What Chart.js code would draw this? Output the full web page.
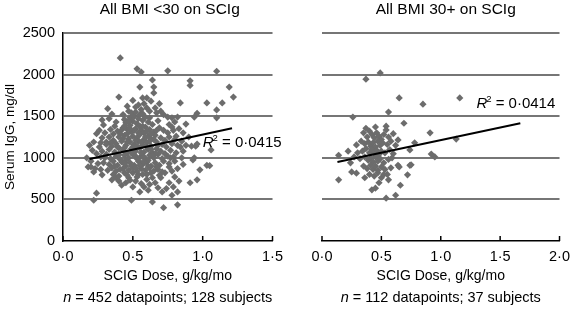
<!DOCTYPE html>
<html>
<head>
<meta charset="utf-8">
<script src="https://cdn.jsdelivr.net/npm/chart.js@4.4.1/dist/chart.umd.min.js"></script>
<style>
  body { margin: 0; background: #fff; }
  #wrap { position: relative; width: 577px; height: 312px; }
  .panel { position: absolute; top: 0; height: 312px; }
</style>
</head>
<body>
<div id="wrap">
  <div class="panel" style="left:0;width:290px"><canvas id="leftChart"></canvas></div>
  <div class="panel" style="left:290px;width:287px"><canvas id="rightChart"></canvas></div>
</div>
<script>
// Serum IgG vs SCIG dose, split by BMI group
const FONT = "'Liberation Sans', Arial, sans-serif";

const yTicks = [0, 500, 1000, 1500, 2000, 2500];
const leftXTicks = ['0·0', '0·5', '1·0', '1·5'];
const rightXTicks = ['0·0', '0·5', '1·0', '1·5', '2·0'];

const panelTitles = ['All BMI <30 on SCIg', 'All BMI 30+ on SCIg'];
const footnotes = [' = 452 datapoints; 128 subjects', ' = 112 datapoints; 37 subjects'];
const rSquared = ['0·0415', '0·0414'];

// [dose g/kg/mo, IgG mg/dl]
const leftPoints = [
    [0.41, 2200], [0.53, 2070], [0.56, 2030], [0.75, 2045], [1.10, 2040], [0.64, 1935],
    [0.91, 1925], [0.91, 1870], [1.19, 1850], [0.55, 1850], [0.65, 1850], [0.65, 1780],
    [1.22, 1730], [0.40, 1730], [0.84, 1660], [1.03, 1660], [1.14, 1660], [0.69, 1650],
    [0.54, 1635], [0.46, 1620], [1.10, 1575], [0.32, 1590], [0.35, 1525], [0.96, 1535],
    [0.94, 1490], [1.10, 1480], [0.28, 1455], [0.29, 1395], [0.38, 1430], [0.42, 1335],
    [0.36, 1285], [0.88, 1405], [0.75, 1490], [0.78, 1480], [0.82, 1490], [0.22, 1190],
    [0.28, 1240], [0.33, 1250], [0.20, 890], [0.17, 1000], [0.24, 575], [0.22, 490],
    [0.49, 490], [0.64, 470], [0.72, 400], [0.82, 435], [0.82, 590], [0.78, 550],
    [0.91, 700], [0.96, 735], [0.80, 770], [1.03, 910], [1.05, 905], [0.98, 855],
    [0.93, 975], [0.94, 1000], [1.06, 1095], [0.84, 1130], [0.77, 1000], [0.55, 590],
    [0.61, 610], [0.42, 670], [0.50, 650], [0.35, 735], [0.28, 795], [0.18, 890],
    [0.22, 830], [0.19, 1150], [0.21, 1090], [0.24, 1050], [0.20, 960], [0.25, 930],
    [0.23, 870], [0.27, 860], [0.30, 1000], [0.26, 1130], [0.24, 1290], [0.26, 1330],
    [0.30, 1300], [0.31, 1190], [0.27, 1180], [0.33, 1470], [0.37, 1380], [0.34, 1340],
    [0.44, 1460], [0.43, 1520], [0.47, 1560], [0.48, 1480], [0.50, 1690], [0.52, 1610],
    [0.56, 1580], [0.58, 1650], [0.60, 1600], [0.62, 1560], [0.66, 1600], [0.70, 1560],
    [0.72, 1520], [0.67, 1540], [0.63, 1680], [0.57, 1720], [0.60, 1720], [0.80, 1430],
    [0.76, 1400], [0.83, 1350], [0.86, 1300], [0.90, 1250], [0.81, 1260], [0.92, 1140],
    [0.95, 1140], [0.88, 1150], [0.85, 1200], [0.79, 1330], [0.96, 1165], [0.32, 850],
    [0.36, 800], [0.38, 760], [0.40, 720], [0.45, 700], [0.47, 760], [0.52, 720],
    [0.56, 690], [0.58, 650], [0.62, 680], [0.66, 700], [0.68, 640], [0.71, 590],
    [0.74, 630], [0.76, 700], [0.79, 650], [0.83, 720], [0.70, 760], [0.64, 760],
    [0.60, 800], [0.54, 800], [0.50, 820], [0.44, 820], [0.41, 860], [0.73, 820],
    [0.78, 840], [0.82, 870], [0.86, 920], [0.85, 1000], [0.80, 960], [0.76, 930],
    [0.45, 1420], [0.50, 1440], [0.53, 1410], [0.57, 1450], [0.61, 1430], [0.64, 1400],
    [0.68, 1445], [0.55, 1380], [0.48, 1390], [0.59, 1370], [0.39, 1320], [0.43, 1360],
    [0.46, 1340], [0.49, 1310], [0.52, 1350], [0.56, 1330], [0.58, 1300], [0.62, 1340],
    [0.65, 1310], [0.69, 1360], [0.72, 1330], [0.75, 1300], [0.78, 1370], [0.41, 1290],
    [0.36, 1210], [0.40, 1250], [0.44, 1270], [0.47, 1230], [0.50, 1260], [0.53, 1240],
    [0.55, 1280], [0.58, 1220], [0.61, 1260], [0.63, 1230], [0.66, 1270], [0.70, 1240],
    [0.73, 1210], [0.76, 1250], [0.80, 1220], [0.34, 1180], [0.31, 1160], [0.35, 1140],
    [0.38, 1170], [0.42, 1200], [0.45, 1150], [0.48, 1190], [0.51, 1160], [0.54, 1200],
    [0.57, 1150], [0.60, 1180], [0.63, 1140], [0.67, 1190], [0.71, 1160], [0.74, 1130],
    [0.78, 1170], [0.82, 1150], [0.28, 1080], [0.33, 1100], [0.37, 1070], [0.40, 1120],
    [0.43, 1090], [0.46, 1060], [0.49, 1110], [0.52, 1080], [0.55, 1120], [0.58, 1070],
    [0.61, 1100], [0.64, 1060], [0.67, 1110], [0.70, 1080], [0.73, 1050], [0.77, 1090],
    [0.81, 1060], [0.86, 1080], [0.27, 1010], [0.31, 1040], [0.34, 990], [0.38, 1020],
    [0.41, 980], [0.44, 1030], [0.47, 1000], [0.50, 1040], [0.53, 990], [0.56, 1020],
    [0.59, 980], [0.62, 1030], [0.65, 1000], [0.68, 1040], [0.71, 990], [0.75, 1020],
    [0.79, 1010], [0.29, 940], [0.33, 920], [0.36, 960], [0.39, 910], [0.42, 950],
    [0.45, 900], [0.48, 940], [0.51, 910], [0.54, 960], [0.57, 920], [0.60, 950],
    [0.63, 900], [0.66, 940], [0.69, 910], [0.72, 960], [0.76, 890], [0.35, 880],
    [0.38, 840], [0.43, 870], [0.47, 850], [0.50, 880], [0.53, 840], [0.56, 870],
    [0.59, 850], [0.62, 880], [0.65, 840], [0.68, 860], [0.71, 830],
    [0.44, 1380], [0.47, 1440], [0.51, 1500], [0.54, 1470], [0.57, 1530], [0.59, 1490],
    [0.62, 1480], [0.52, 1550], [0.55, 1520], [0.49, 1540], [0.46, 1290], [0.51, 1330],
    [0.54, 1300], [0.57, 1380], [0.60, 1320], [0.63, 1290], [0.67, 1330], [0.48, 1350],
    [0.43, 1230], [0.46, 1190], [0.52, 1210], [0.56, 1190], [0.59, 1250], [0.62, 1200],
    [0.65, 1220], [0.68, 1150], [0.39, 1130], [0.44, 1120], [0.50, 1130], [0.53, 1140],
    [0.56, 1060], [0.60, 1130], [0.63, 1100], [0.66, 1050], [0.40, 1040], [0.45, 970],
    [0.49, 1060], [0.52, 1020], [0.55, 950], [0.58, 1010], [0.61, 970], [0.64, 1030],
    [0.37, 900], [0.44, 930], [0.49, 900], [0.52, 880], [0.55, 910], [0.58, 950],
    [0.61, 900], [0.67, 890], [0.40, 780], [0.46, 790], [0.53, 770], [0.57, 800],
    [0.63, 820], [0.69, 790], [0.48, 730], [0.60, 740]
];

const rightPoints = [
    [0.37, 1945], [0.49, 2020], [0.65, 1720], [0.85, 1645], [1.16, 1720], [0.26, 1490],
    [0.56, 1550], [0.69, 1415], [0.37, 1355], [0.45, 1370], [0.54, 1380], [0.91, 1300],
    [1.13, 1225], [0.29, 1155], [0.14, 1030], [0.92, 1045], [0.95, 1010], [0.14, 735],
    [0.25, 830], [0.29, 815], [0.42, 615], [0.45, 635], [0.54, 515], [0.62, 550],
    [0.66, 670], [0.72, 795], [0.75, 915], [0.56, 735], [0.64, 910], [0.64, 1215],
    [0.54, 1335], [0.78, 1180], [0.74, 1095], [0.65, 890], [0.74, 910], [0.22, 1080],
    [0.27, 1010], [0.30, 1060], [0.24, 940], [0.35, 1300], [0.38, 1250], [0.40, 1320],
    [0.42, 1280], [0.44, 1240], [0.46, 1300], [0.48, 1260], [0.50, 1220], [0.52, 1280],
    [0.56, 1250], [0.60, 1290], [0.33, 1200], [0.36, 1170], [0.39, 1190], [0.41, 1140],
    [0.43, 1180], [0.45, 1130], [0.47, 1200], [0.49, 1150], [0.51, 1180], [0.55, 1160],
    [0.58, 1200], [0.62, 1150], [0.34, 1080], [0.37, 1110], [0.40, 1060], [0.42, 1100],
    [0.44, 1050], [0.46, 1090], [0.48, 1040], [0.50, 1080], [0.53, 1060], [0.57, 1100],
    [0.60, 1050], [0.32, 990], [0.36, 1010], [0.39, 970], [0.41, 1000], [0.43, 950],
    [0.45, 1010], [0.47, 960], [0.49, 990], [0.52, 940], [0.56, 980], [0.59, 1000],
    [0.35, 900], [0.38, 870], [0.41, 910], [0.43, 860], [0.45, 900], [0.47, 850],
    [0.50, 890], [0.53, 860], [0.58, 880], [0.40, 800], [0.44, 780], [0.47, 820],
    [0.50, 760], [0.52, 800], [0.36, 760], [0.48, 700], [0.55, 800]
];

// fitted trend line end points
const leftTrend = [[0.19, 985], [1.21, 1355]];
const rightTrend = [[0.13, 950], [1.67, 1415]];

const toXY = arr => arr.map(p => ({ x: p[0], y: p[1] }));

// titles, footnote with italic n, R^2 label, inward x ticks
const panelText = {
    id: 'panelText',
    afterDraw(chart, args, opts) {
        const ctx = chart.ctx;
        const a = chart.chartArea;
        const xs = chart.scales.x;
        const ys = chart.scales.y;
        const cx = (a.left + a.right) / 2;
        ctx.save();
        ctx.fillStyle = '#000';
        ctx.textBaseline = 'middle';

        // inward tick marks on the x axis
        ctx.strokeStyle = '#000';
        ctx.lineWidth = 1.5;
        xs.ticks.forEach(t => {
            const px = xs.getPixelForValue(t.value);
            ctx.beginPath();
            ctx.moveTo(px, a.bottom);
            ctx.lineTo(px, a.bottom - 5);
            ctx.stroke();
        });

        ctx.textAlign = 'center';
        ctx.font = '15.5px ' + FONT;
        ctx.fillText(opts.title, cx + opts.titleShift, 10);

        // footnote
        ctx.textAlign = 'left';
        ctx.font = 'italic 14.5px ' + FONT;
        const wn = ctx.measureText('n').width;
        ctx.font = '14.5px ' + FONT;
        const wr = ctx.measureText(opts.footnote).width;
        let x0 = cx - (wn + wr) / 2;
        ctx.font = 'italic 14.5px ' + FONT;
        ctx.fillText('n', x0, 298);
        ctx.font = '14.5px ' + FONT;
        ctx.fillText(opts.footnote, x0 + wn, 298);

        // R^2 label
        let rx = xs.getPixelForValue(opts.r2At[0]);
        const ry = ys.getPixelForValue(opts.r2At[1]);
        ctx.font = 'italic 15px ' + FONT;
        ctx.fillText('R', rx, ry);
        rx += ctx.measureText('R').width - 1;
        ctx.font = '9.5px ' + FONT;
        ctx.fillText('2', rx, ry - 5);
        rx += ctx.measureText('2').width;
        ctx.font = '15px ' + FONT;
        ctx.fillText(' = ' + opts.r2, rx, ry);
        ctx.restore();
    }
};

function makeChart(id, points, trend, xMax, xLabels, yWidth, padRight, text, showY) {
    return new Chart(document.getElementById(id), {
        type: 'scatter',
        data: {
            datasets: [
                {
                    type: 'line',
                    data: toXY(trend),
                    borderColor: '#000',
                    borderWidth: 2,
                    pointRadius: 0,
                    fill: false
                },
                {
                    data: toXY(points),
                    pointStyle: 'rectRot',
                    pointRadius: 3.6,
                    backgroundColor: '#6c6c6c',
                    borderWidth: 0
                }
            ]
        },
        options: {
            responsive: true,
            maintainAspectRatio: false,
            animation: false,
            layout: { padding: { top: 33, right: padRight, left: 0, bottom: 0 } },
            plugins: {
                legend: { display: false },
                tooltip: { enabled: false },
                panelText: text
            },
            scales: {
                x: {
                    type: 'linear',
                    min: 0,
                    max: xMax,
                    afterFit: s => { s.height = 71; },
                    afterBuildTicks: s => {
                        s.ticks = xLabels.map((_, i) => ({ value: i * 0.5 }));
                    },
                    grid: { display: false, drawTicks: false },
                    border: { color: '#000', width: 1.5 },
                    ticks: {
                        padding: 7,
                        color: '#000',
                        font: { family: FONT, size: 14.5 },
                        callback: v => xLabels[Math.round(v / 0.5)]
                    },
                    title: {
                        display: true,
                        text: 'SCIG Dose, g/kg/mo',
                        color: '#000',
                        font: { family: FONT, size: 14 },
                        padding: { top: 0, bottom: 27 }
                    }
                },
                y: {
                    min: 0,
                    max: 2500,
                    afterFit: s => { s.width = yWidth; },
                    afterBuildTicks: s => {
                        s.ticks = yTicks.map(v => ({ value: v }));
                    },
                    grid: {
                        color: c => (c.tick && c.tick.value === 0) ? 'rgba(0,0,0,0)' : '#767676',
                        lineWidth: 2,
                        drawTicks: false
                    },
                    border: { display: showY, color: '#000', width: 1.5 },
                    ticks: {
                        display: showY,
                        padding: 8,
                        color: '#000',
                        font: { family: FONT, size: 14.5 },
                        callback: v => String(v)
                    },
                    title: {
                        display: showY,
                        text: 'Serum IgG, mg/dl',
                        color: '#000',
                        font: { family: FONT, size: 13.5 },
                        padding: { top: 2, bottom: 0 }
                    }
                }
            }
        },
        plugins: [panelText]
    });
}

makeChart('leftChart', leftPoints, leftTrend, 1.5, leftXTicks, 63, 12,
    { title: panelTitles[0], titleShift: 2, footnote: footnotes[0], r2: rSquared[0], r2At: [1.0, 1178] }, true);
makeChart('rightChart', rightPoints, rightTrend, 2.0, rightXTicks, 32, 10,
    { title: panelTitles[1], titleShift: 5, footnote: footnotes[1], r2: rSquared[1], r2At: [1.30, 1647] }, false);
</script>
</body>
</html>
